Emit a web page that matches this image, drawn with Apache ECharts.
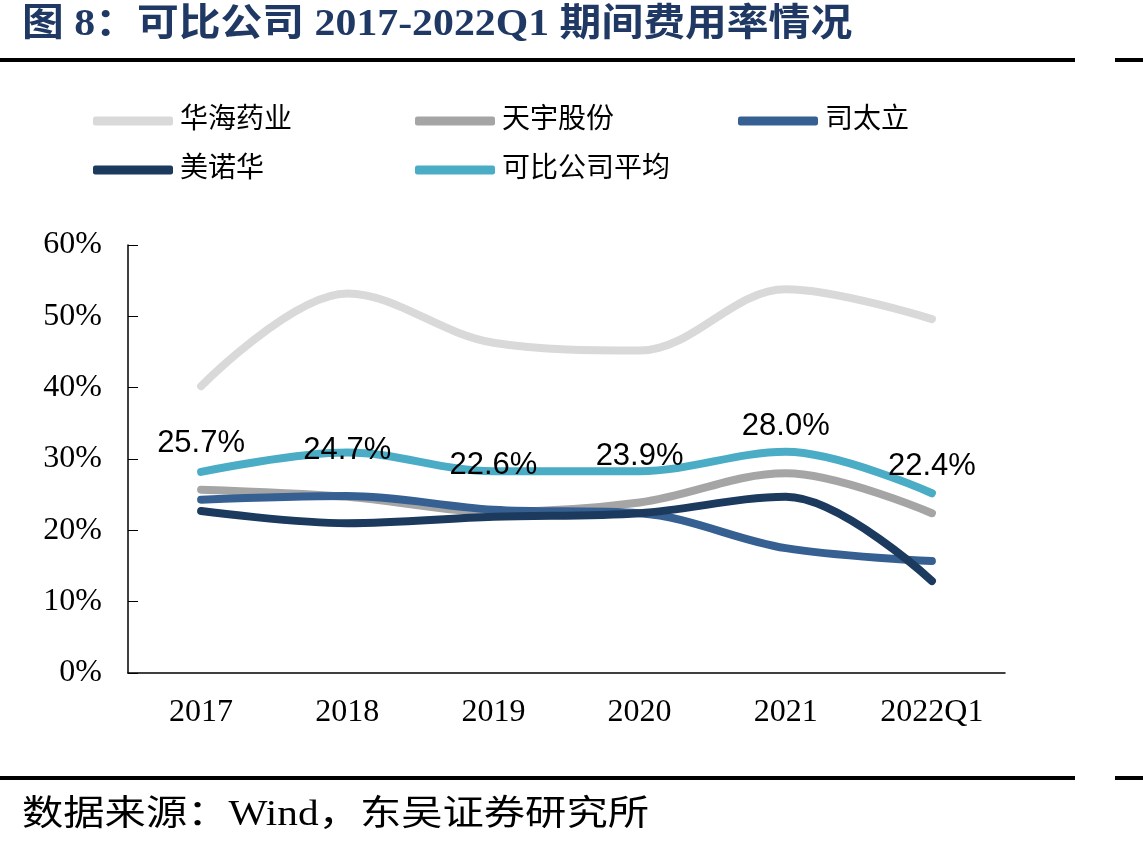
<!DOCTYPE html>
<html>
<head>
<meta charset="utf-8">
<script src="https://cdn.jsdelivr.net/npm/echarts@6/dist/echarts.min.js"></script>
<style>
  html, body { margin: 0; padding: 0; background: #fff; }
  #chart { width: 1143px; height: 852px; }
</style>
</head>
<body>
<div id="chart"></div>
<script>
var categories = ['2017', '2018', '2019', '2020', '2021', '2022Q1'];
var huahai = [40.2, 53.2, 46.3, 45.2, 53.8, 49.6];
var tianyu = [25.7, 24.7, 22.6, 23.9, 28.0, 22.4];
var sitaili = [24.3, 24.8, 22.9, 22.4, 17.5, 15.7];
var meinuohua = [22.7, 21.0, 21.9, 22.4, 24.7, 12.9];
var average = [28.2, 30.9, 28.3, 28.3, 31.0, 25.2];
var yTicks = [0, 10, 20, 30, 40, 50, 60];

var serif = '"Liberation Serif", "Noto Sans CJK SC", serif';
var chartDom = document.getElementById('chart');
var myChart = echarts.init(chartDom);

function line(name, data, color, z) {
  return {
    name: name,
    type: 'line',
    data: data,
    smooth: 0.35,
    symbol: 'none',
    z: z,
    lineStyle: { width: 8, color: color, cap: 'round' },
    itemStyle: { color: color }
  };
}

// labels of 天宇股份 drawn above all lines
var tianyuLabels = {
  name: '天宇股份标签',
  type: 'line',
  data: tianyu,
  smooth: 0.35,
  z: 10,
  silent: true,
  symbol: 'circle',
  symbolSize: 0.1,
  showSymbol: true,
  lineStyle: { color: 'rgba(0,0,0,0)', width: 0 },
  itemStyle: { color: 'rgba(0,0,0,0)' },
  label: {
    show: true,
    position: 'top',
    distance: 31,
    color: '#000',
    fontSize: 31,
    fontFamily: '"Liberation Sans", Arial, sans-serif',
    formatter: function (p) { return p.value.toFixed(1) + '%'; }
  }
};

function legendItem(name, left, top) {
  return {
    left: left,
    top: top,
    itemWidth: 80,
    itemHeight: 9,
    icon: 'roundRect',
    data: [name],
    textStyle: { fontSize: 28, color: '#000', fontFamily: serif, padding: [0, 0, 0, 2] }
  };
}

var option = {
  animation: false,
  backgroundColor: '#fff',
  grid: { left: 128, right: 138, top: 245, bottom: 179 },
  legend: [
    legendItem('华海药业', 88, 102),
    legendItem('天宇股份', 410, 102),
    legendItem('司太立', 733, 102),
    legendItem('美诺华', 88, 151),
    legendItem('可比公司平均', 410, 151)
  ],
  xAxis: {
    type: 'category',
    data: categories,
    boundaryGap: true,
    axisLine: { lineStyle: { color: '#000', width: 1.5 } },
    axisTick: { inside: true, length: 11, lineStyle: { color: '#000' } },
    axisLabel: { fontSize: 32, color: '#000', fontFamily: serif, margin: 24 }
  },
  yAxis: {
    type: 'value',
    min: 0,
    max: 60,
    interval: 10,
    axisLine: { show: true, lineStyle: { color: '#000', width: 1.5 } },
    axisTick: { show: true, inside: true, length: 10, lineStyle: { color: '#000' } },
    splitLine: { show: false },
    axisLabel: {
      fontSize: 32, color: '#000', fontFamily: serif, margin: 26,
      formatter: function (v) { return yTicks.indexOf(v) >= 0 ? v + '%' : ''; }
    }
  },
  graphic: [
    { type: 'text', x: 22, y: 6, scaleX: 1.1, style: { text: '图 8：可比公司 2017-2022Q1 期间费用率情况', fill: '#1f3864', font: 'bold 38px ' + serif } },
    { type: 'rect', shape: { x: 0, y: 58, width: 1075, height: 4 }, style: { fill: '#000' } },
    { type: 'rect', shape: { x: 1115, y: 58, width: 28, height: 4 }, style: { fill: '#000' } },
    { type: 'rect', shape: { x: 0, y: 776, width: 1075, height: 4 }, style: { fill: '#000' } },
    { type: 'rect', shape: { x: 1115, y: 776, width: 28, height: 4 }, style: { fill: '#000' } },
    { type: 'text', x: 22, y: 798, scaleX: 1.18, style: { text: '数据来源：Wind，东吴证券研究所', fill: '#000', font: '35px ' + serif } }
  ],
  series: [
    line('华海药业', huahai, '#d9d9d9', 2),
    line('天宇股份', tianyu, '#a5a5a5', 3),
    line('司太立', sitaili, '#376092', 4),
    line('美诺华', meinuohua, '#1b3a5e', 5),
    line('可比公司平均', average, '#4bacc6', 6),
    tianyuLabels
  ]
};

option && myChart.setOption(option);
</script>
</body>
</html>
